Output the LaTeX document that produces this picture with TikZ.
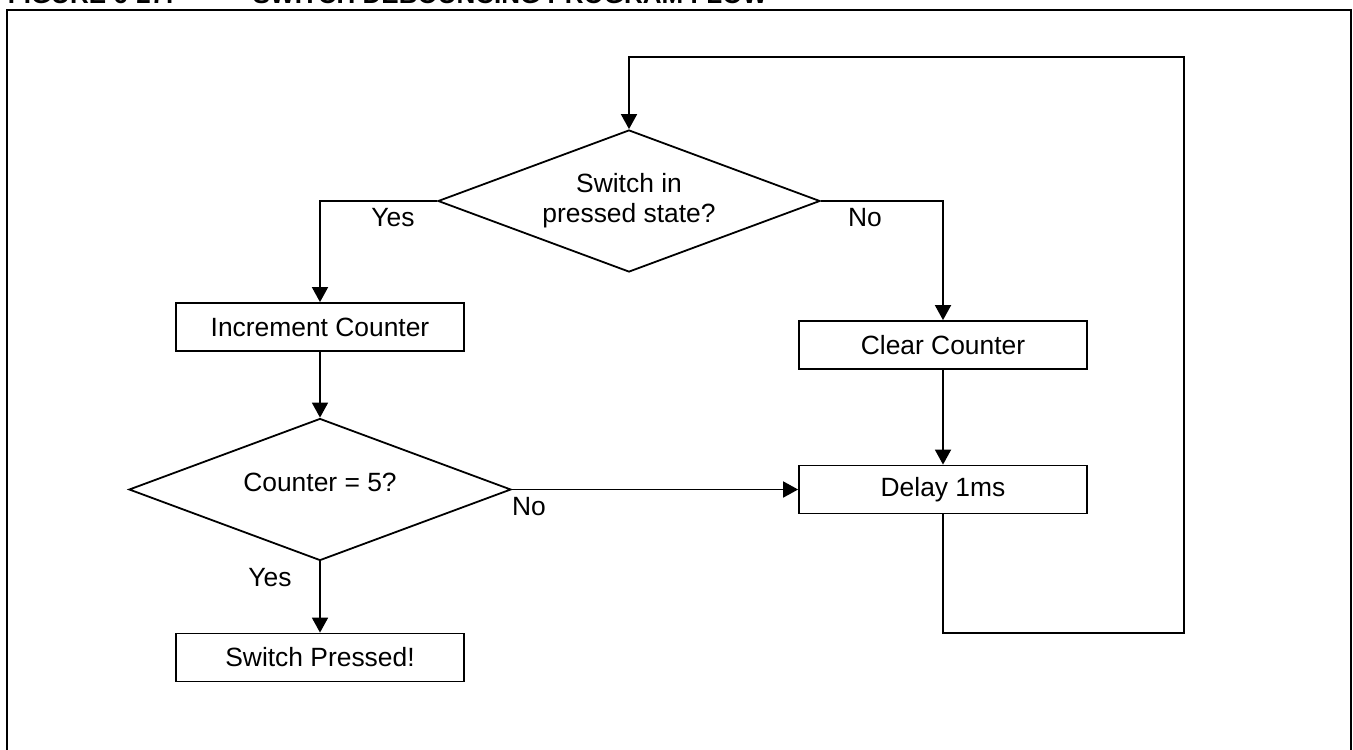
\documentclass[tikz,border=0pt]{standalone}
\usepackage{fontspec}
\setmainfont{Liberation Sans}
\usetikzlibrary{shapes.geometric,arrows.meta}

\tikzset{
  procbox/.style={draw, rectangle, minimum width=144pt, minimum height=24pt, inner sep=0pt, font=\fontsize{13.2}{15.8}\selectfont},
  decbox/.style={draw, diamond, aspect=2.69, minimum width=191pt, minimum height=71pt, inner sep=0pt, align=center, font=\fontsize{13.2}{15}\selectfont},
  flowline/.style={-{Triangle[length=7.5pt,width=8pt]}},
  lbl/.style={inner sep=0pt, font=\fontsize{13.2}{15.8}\selectfont},
  titletext/.style={inner sep=0pt, anchor=base west, font=\fontsize{13}{15}\selectfont\bfseries}
}

\begin{document}
\begin{tikzpicture}[x=0.5pt,y=0.5pt,yscale=-1,line width=0.9pt]
\useasboundingbox (0,0) rectangle (1353,749);

% Title (cut by the page top)
\begin{scope}
\clip (0,0) rectangle (1353,749);
\node[titletext] (fignum) at (7,4) {FIGURE 6-27:};
\node[titletext] (figtitle) at (252,4) {SWITCH DEBOUNCING PROGRAM FLOW};
\end{scope}

% Frame
\draw[line width=1pt] (7,760) -- (7,10.5) -- (1351,10.5) -- (1351,760);

% Decisions
\node[decbox] (pressed) at (629,201) {Switch in\\pressed state?};
\node[decbox, text height=9.5pt, text depth=8pt] (five) at (320,489.5) {Counter = 5?};

% Process boxes
\node[procbox] (incr) at (320,327) {Increment Counter};
\node[procbox] (done) at (320,657.5) {Switch Pressed!};
\node[procbox] (clear) at (943,345) {Clear Counter};
\node[procbox] (delay) at (943,489.5) {Delay 1ms};

% Loop corners
\coordinate (loopbr) at (1184,633);
\coordinate (looptr) at (1184,57);

% Connectors
\draw[flowline] (pressed.west) -| (incr.north);
\draw[flowline] (pressed.east) -| (clear.north);
\draw[flowline] (incr) -- (five);
\draw[flowline] (five) -- (done);
\draw[flowline] (five.east) -- (delay.west);
\draw[flowline] (clear) -- (delay);
\draw[flowline] (delay.south) |- (loopbr) -- (looptr) -| (pressed.north);

% Branch labels
\node[lbl] (yesA) at (393,218) {Yes};
\node[lbl] (noA) at (865,218) {No};
\node[lbl] (noB) at (529,507) {No};
\node[lbl] (yesB) at (270,578) {Yes};

\end{tikzpicture}
\end{document}
